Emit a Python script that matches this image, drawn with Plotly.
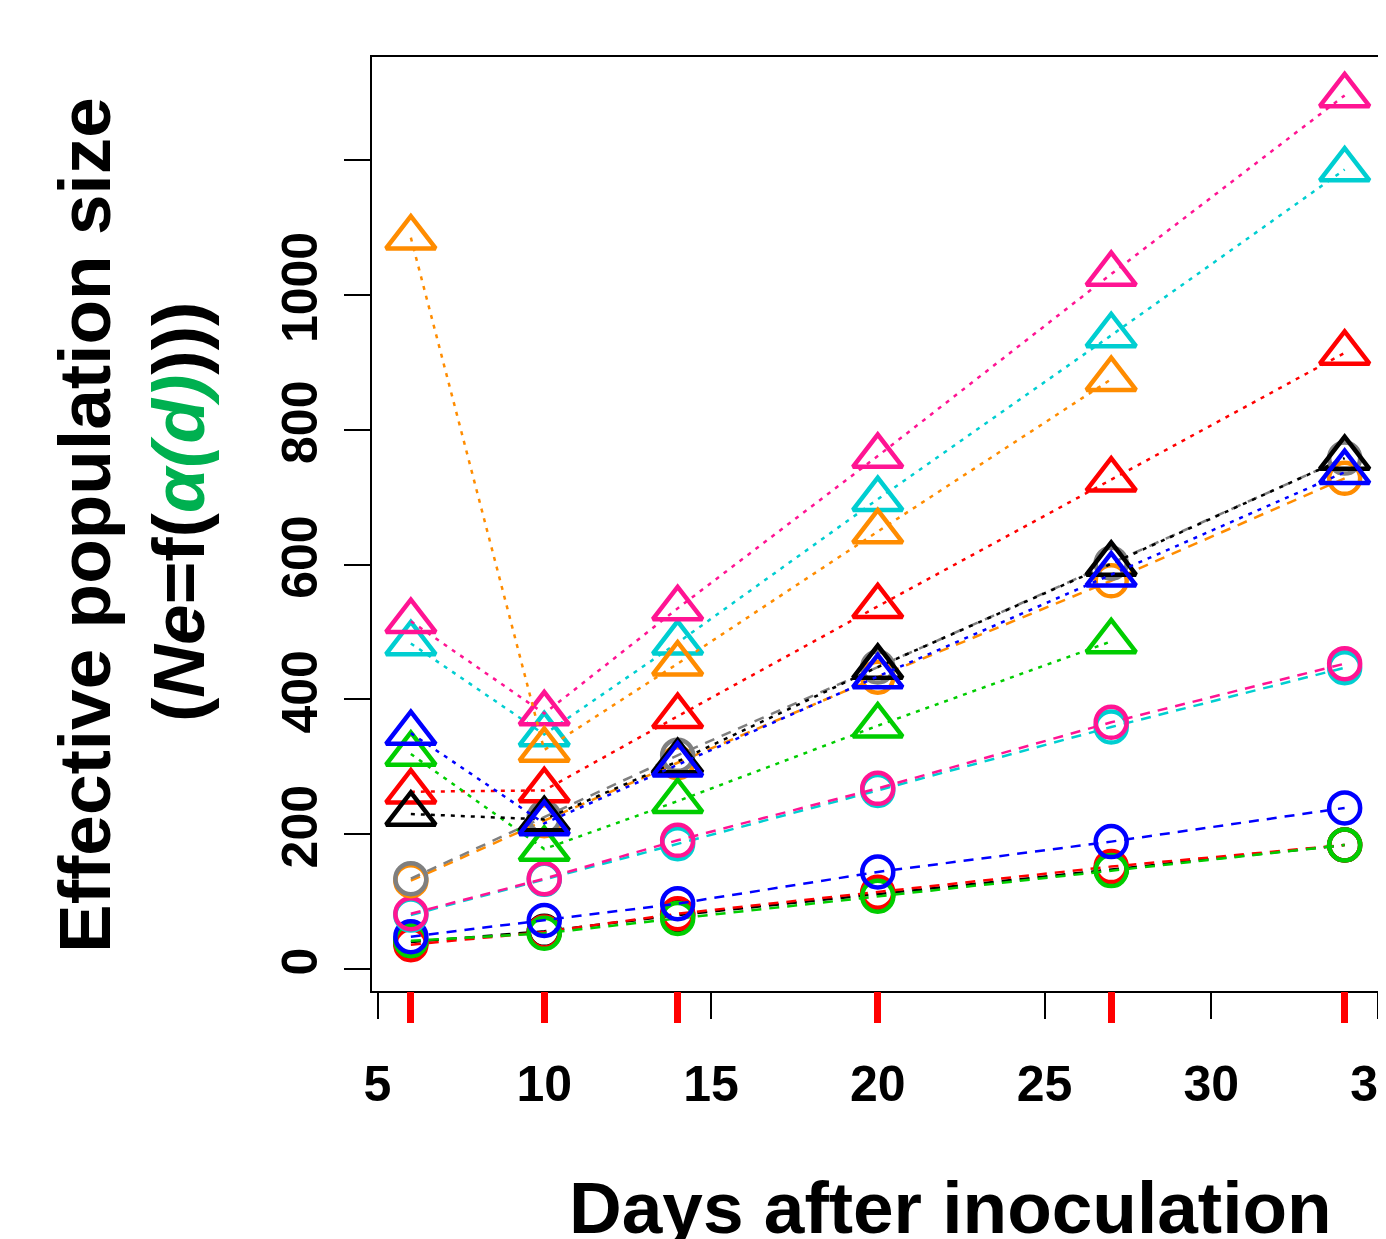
import plotly.graph_objects as go

# ---------------- data ----------------
days = [6, 10, 14, 20, 27, 34]
x_ticks = [5, 10, 15, 20, 25, 30, 35]
y_ticks = [0, 200, 400, 600, 800, 1000, 1200]
y_ticktext = ["0", "200", "400", "600", "800", "1000", ""]

# circles (dashed lines)
black_circ = [40, 56, 80, 111, 148, 184]
red_circ = [36, 55, 82, 114, 152, 184]
green_circ = [42, 53, 75, 108, 146, 184]
blue_circ = [48, 72, 97, 144, 189, 239]
cyan_circ = [80, 133, 186, 265, 359, 447]
pink_circ = [82, 134, 191, 268, 366, 453]
orange_circ = [131, 220, 306, 433, 576, 728]
gray_circ = [134, 225, 317, 448, 602, 758]

# triangles (dotted lines)
cyan_tri = [483, 348, 484, 697, 940, 1186]
pink_tri = [516, 379, 535, 761, 1031, 1296]
orange_tri = [1085, 325, 453, 649, 875, None]
red_tri = [263, 265, 375, 538, 726, 914]
green_tri = [319, 178, 249, 361, 486, None]
black_tri = [230, 222, 308, 448, 601, 758]
blue_tri = [350, 216, 303, 434, 585, 737]

circ_series = [
    ("#000000", black_circ),
    ("#FF0000", red_circ),
    ("#00CD00", green_circ),
    ("#0000FF", blue_circ),
    ("#00CED1", cyan_circ),
    ("#FF1493", pink_circ),
    ("#FF8C00", orange_circ),
    ("#7F7F7F", gray_circ),
]
tri_series = [
    ("#00CED1", cyan_tri),
    ("#FF1493", pink_tri),
    ("#FF8C00", orange_tri),
    ("#FF0000", red_tri),
    ("#00CD00", green_tri),
    ("#000000", black_tri),
    ("#0000FF", blue_tri),
]

FONT = "Liberation Sans, Arial, sans-serif"

# page body has an 8px margin: figure is sized so the plot box lands where the reference has it
W, H = 1370, 1231
ML, MT, MR = 364, 49, 0
PW = W - ML - MR
PH = 934
MB = H - MT - PH


def px_x(p):
    return (p - 8 - ML) / PW


def px_y(p):
    return (H - MB - (p - 8)) / PH


fig = go.Figure()

for col, vals in circ_series:
    fig.add_trace(go.Scatter(
        x=days, y=vals, mode="lines+markers",
        line=dict(color=col, width=2.5, dash="10px,8px"),
        marker=dict(symbol="circle-open", size=31, color=col,
                    line=dict(color=col, width=4.5)),
        showlegend=False, hoverinfo="skip", connectgaps=False,
    ))

for col, vals in tri_series:
    fig.add_trace(go.Scatter(
        x=days, y=vals, mode="lines+markers",
        line=dict(color=col, width=2.5, dash="4px,6px"),
        marker=dict(symbol="triangle-up-open", size=43, color=col,
                    line=dict(color=col, width=4.5)),
        showlegend=False, hoverinfo="skip", connectgaps=False,
    ))

# invisible helper trace so the red day-tick axis is drawn
fig.add_trace(go.Scatter(
    x=[days[0]], y=[0], xaxis="x2", mode="markers",
    marker=dict(opacity=0), showlegend=False, hoverinfo="skip",
))

xr = [4.835, 35.0]
yr = [-32.6, 1353]

fig.update_layout(
    width=W, height=H,
    paper_bgcolor="white", plot_bgcolor="white",
    margin=dict(l=ML, r=MR, t=MT, b=MB, autoexpand=False),
    font=dict(family=FONT, color="black"),
    xaxis=dict(
        range=xr, tickmode="array", tickvals=x_ticks,
        ticks="outside", ticklen=26, tickwidth=2, tickcolor="black",
        showline=True, linecolor="black", linewidth=2, mirror=True,
        showgrid=False, zeroline=False,
        tickfont=dict(family=FONT, size=50, weight="bold", color="black"),
        ticklabeloverflow="allow", ticklabelstandoff=22,
    ),
    xaxis2=dict(
        range=xr, overlaying="x", anchor="y", side="bottom",
        tickmode="array", tickvals=days,
        ticks="outside", ticklen=31, tickwidth=7, tickcolor="#FF0000",
        showticklabels=False, showline=False, showgrid=False, zeroline=False,
    ),
    yaxis=dict(
        range=yr, tickmode="array", tickvals=y_ticks, ticktext=y_ticktext,
        ticks="outside", ticklen=26, tickwidth=2, tickcolor="black",
        showline=True, linecolor="black", linewidth=2, mirror=True,
        showgrid=False, zeroline=False, tickangle=-90,
        tickfont=dict(family=FONT, size=50, weight="bold", color="black"),
        ticklabelstandoff=7,
    ),
    annotations=[
        dict(text="Effective population size", xref="paper", yref="paper",
             x=px_x(84), y=px_y(525), xanchor="center", yanchor="middle",
             textangle=-90, showarrow=False,
             font=dict(family=FONT, size=73, weight="bold", color="black")),
        dict(text="(<i>Ne</i>=f(<span style='color:#00B050'><i>α(d)</i></span>)))",
             xref="paper", yref="paper",
             x=px_x(178), y=px_y(512), xanchor="center", yanchor="middle",
             textangle=-90, showarrow=False,
             font=dict(family=FONT, size=73, weight="bold", color="black")),
        dict(text="Days after inoculation", xref="paper", yref="paper",
             x=px_x(950), y=px_y(1165), xanchor="center", yanchor="top",
             showarrow=False,
             font=dict(family=FONT, size=73, weight="bold", color="black")),
    ],
)

fig.write_html("out.html")
